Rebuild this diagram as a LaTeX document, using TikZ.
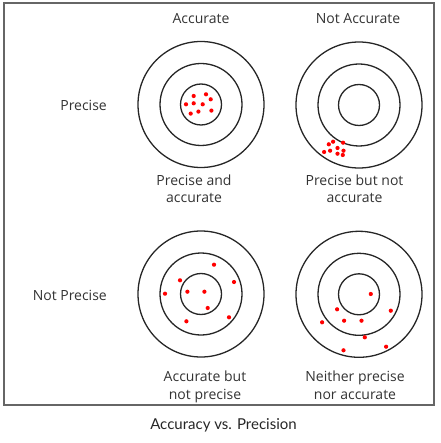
\documentclass[tikz,border=0pt]{standalone}
\usepackage{fontspec}
\setmainfont{Open Sans}
\newfontfamily\capfont{Lato}
\usetikzlibrary{calc}
\begin{document}
\begin{tikzpicture}[x=1pt,y=-1pt,
  ring/.style={draw=black!85,line width=1.3pt},
  hit/.style={fill=red,draw=none},
  lbl/.style={font=\fontsize{14}{17.5}\selectfont,text=black!80,inner sep=0pt,anchor=base},
  lbltwo/.style={font=\fontsize{14}{17.5}\selectfont,text=black!80,inner sep=0pt,align=center,anchor=base},
  frame/.style={draw=black!60,line width=1.3pt}]
\useasboundingbox (0,0) rectangle (440,443);
\draw[frame] (4,3) rectangle (434,405);
% column/row headings
\node[lbl] (acc) at (201,24) {Accurate};
\node[lbl] (nacc) at (358,24) {Not Accurate};
\node[lbl,anchor=base east] (prec) at (107,111) {Precise};
\node[lbl,anchor=base east] (nprec) at (107,300) {Not Precise};
% targets
\foreach \cx/\cy/\nm in {201/104.5/t1, 359/105/t2, 201/294/t3, 359/294.3/t4}{
  \coordinate (\nm) at (\cx,\cy);
  \draw[ring] (\nm) circle (63);
  \draw[ring] (\nm) circle (41);
  \draw[ring] (\nm) circle (20.5);
}
% hits
\foreach \dx/\dy in {-7.3/-8.5, 5/-10.2, 9.7/-5.2, -15/-0.2, -7.3/-1.2, 1.7/-0.2, -10.3/9.1, -2.6/7.1, 10.4/6.1}
  \fill[hit] ($(t1)+(\dx,\dy)$) circle (2.1);
\foreach \dx/\dy in {-25.9/36.7, -15.9/37.7, -30.2/39.3, -21.5/43, -28.9/45.7, -34.9/47, -15.5/45.7, -21.5/48.7, -16.2/50}
  \fill[hit] ($(t2)+(\dx,\dy)$) circle (2.1);
\foreach \dx/\dy in {13/-29.3, -21/-13.7, 33/-12, -36/-0.3, -13.6/-2.3, 3.4/-2.3, 6.7/14, 28/23.3, -14.6/27.3}
  \fill[hit] ($(t3)+(\dx,\dy)$) circle (2.1);
\foreach \dx/\dy in {11.8/-0.3, -21.9/15, 31.8/16.4, -36.9/28, -14.9/26.4, 2.5/26.4, 5.8/43, 27.1/52.4, -15.5/56}
  \fill[hit] ($(t4)+(\dx,\dy)$) circle (2.1);
% captions
\node[lbltwo] (c1) at (194,203) {Precise and\\accurate};
\node[lbltwo] (c2) at (354.5,203) {Precise but not\\accurate};
\node[lbltwo] (c3) at (205,399) {Accurate but\\not precise};
\node[lbltwo] (c4) at (355,399) {Neither precise\\nor accurate};
\node[font=\capfont\fontsize{15}{17}\selectfont,text=black!85,inner sep=0pt,anchor=base] (title) at (223.5,429) {Accuracy vs. Precision};
\end{tikzpicture}
\end{document}
